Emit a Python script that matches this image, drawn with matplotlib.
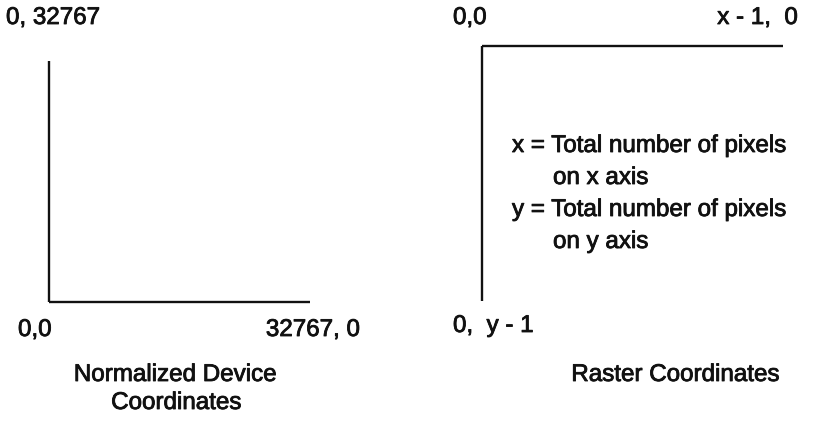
import matplotlib
matplotlib.use("Agg")
import matplotlib.pyplot as plt
import matplotlib.patheffects as pe

# pixel coordinate frame of the diagram (origin top-left)
W, H = 827, 427

# axis lines: (x0, y0, x1, y1)
ndc_lines = [(49, 62, 49, 303), (49, 303, 310, 303)]
raster_lines = [(482, 47, 783, 47), (482, 47, 482, 302)]

# labels: (text, x, y, ha)
labels = [
    ("0, 32767", 6, 19, "left"),
    ("0,0", 18, 331, "left"),
    ("32767, 0", 360, 331, "right"),
    ("Normalized Device", 175, 376, "center"),
    ("Coordinates", 176, 404, "center"),
    ("0,0", 453, 19, "left"),
    ("x - 1,  0", 798, 19, "right"),
    ("x = Total number of pixels", 512, 147, "left"),
    ("on x axis", 553, 179, "left"),
    ("y = Total number of pixels", 512, 211, "left"),
    ("on y axis", 553, 243, "left"),
    ("0,  y - 1", 453, 327, "left"),
    ("Raster Coordinates", 675, 376, "center"),
]

plt.rcParams['font.family'] = ['Liberation Sans', 'DejaVu Sans']

fig = plt.figure(figsize=(W / 100, H / 100), dpi=100)
ax = fig.add_axes([0, 0, 1, 1])
ax.set_xlim(0, W)
ax.set_ylim(H, 0)
ax.axis("off")

for x0, y0, x1, y1 in ndc_lines + raster_lines:
    ax.plot([x0, x1], [y0, y1], color="#111111", lw=1.7, solid_capstyle="butt")

# scanned type looks a little heavier than regular weight
heavy = [pe.withStroke(linewidth=0.6, foreground="#111111")]
for txt, x, y, ha in labels:
    ax.text(x, y, txt, ha=ha, va="center", fontsize=17.4, color="#111111",
            path_effects=heavy)

fig.savefig("out.png", dpi=100, facecolor="white")
